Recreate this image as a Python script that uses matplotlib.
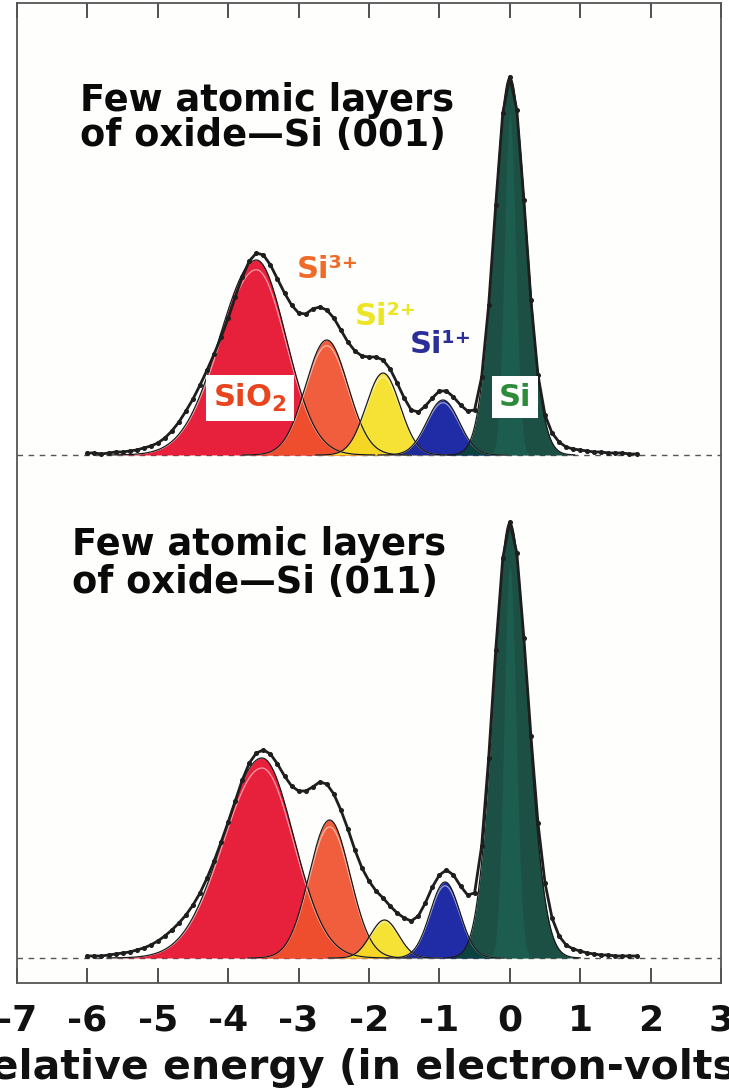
import numpy as np
import matplotlib.pyplot as plt

# energy grid of the measured spectra (eV, relative to bulk Si 2p)
energy = np.round(np.arange(-6.0, 1.81, 0.1), 1)

# measured intensity, Si(001) with a few layers of oxide
upper_counts = [2, 2, 1, 2, 3, 3, 4, 5, 7, 9,
                12, 17, 24, 33, 44, 56, 70, 85, 101, 118,
                137, 158, 178, 194, 202, 200, 190, 176, 162, 150,
                142, 141, 146, 148, 145, 137, 125, 113, 104, 99,
                98, 98, 95, 86, 72, 57, 45, 43, 49, 57,
                64, 64, 58, 50, 44, 45, 78, 150, 250, 342,
                378, 345, 255, 155, 80, 40, 22, 13, 8, 6,
                5, 4, 3, 3, 2, 2, 2, 1, 1]

# measured intensity, Si(011) with a few layers of oxide
lower_counts = [2, 2, 2, 3, 4, 5, 6, 8, 10, 13,
                17, 22, 28, 35, 43, 53, 65, 80, 97, 116,
                136, 157, 178, 195, 205, 208, 204, 194, 182, 172,
                167, 167, 171, 176, 174, 164, 148, 129, 108, 90,
                77, 67, 60, 52, 45, 40, 37, 42, 55, 71,
                83, 88, 83, 72, 63, 65, 112, 200, 308, 400,
                436, 405, 320, 222, 135, 75, 40, 22, 13, 9,
                7, 5, 4, 3, 3, 2, 2, 2, 2]

# fitted components: SiO2, Si3+, Si2+, Si1+, Si
peak_colors = ['#e6102c', '#f0522e', '#f6e024', '#0f1ca0', '#0a4337']

upper_centers = [-3.60, -2.60, -1.80, -0.95, 0.00]
upper_heights = [195, 115, 82, 55, 378]
upper_left_w = [0.52, 0.30, 0.24, 0.23, 0.22]
upper_right_w = [0.42, 0.30, 0.24, 0.23, 0.23]

lower_centers = [-3.52, -2.56, -1.78, -0.92, 0.00]
lower_heights = [200, 138, 38, 76, 436]
lower_left_w = [0.55, 0.29, 0.20, 0.21, 0.23]
lower_right_w = [0.45, 0.29, 0.20, 0.21, 0.25]

upper_offset = 503

xticks = list(range(-7, 4))

plt.rcParams['font.family'] = 'DejaVu Sans'
plt.rcParams['font.weight'] = 'bold'
plt.rcParams['mathtext.fontset'] = 'dejavusans'


def component(x, c, h, wl, wr):
    w = np.where(x < c, wl, wr)
    return h * np.exp(-0.5 * ((x - c) / w) ** 2)


def draw_panel(ax, counts, centers, heights, wl, wr, off):
    ax.plot([-7, 3], [off, off], color='#555555', lw=1, dashes=(4, 4), zorder=1)
    for i, (c, h, l, r, col) in enumerate(zip(centers, heights, wl, wr, peak_colors)):
        xs = np.linspace(c - 4 * l, c + 4 * r, 300)
        ys = component(xs, c, h, l, r)
        ax.fill_between(xs, off, ys + off, color=col, alpha=0.93, lw=0, zorder=2)
        if i == 4:
            # lighter streak inside the bulk peak
            ax.fill_between(xs, off, component(xs, c, h * 0.9, l * 0.35, r * 0.35) + off,
                            color='#1d6e5c', alpha=0.45, lw=0, zorder=2)
        else:
            # crayon highlight just inside the outline
            ax.plot(xs, ys * 0.95 + off, color='white', lw=0.9, alpha=0.55, zorder=3)
        ax.plot(xs, ys + off, color='#1a1a1a', lw=0.9, zorder=3)
    ax.plot(energy, np.array(counts) + off, color='#1e1e1e', lw=2,
            marker='o', ms=2.6, zorder=5)


fig = plt.figure(figsize=(7.29, 10.91), dpi=100)
ax = fig.add_axes([17 / 729, 1 - 983 / 1091, 704 / 729, 980 / 1091])
ax.set_facecolor('#fefefd')

draw_panel(ax, upper_counts, upper_centers, upper_heights,
           upper_left_w, upper_right_w, upper_offset)
draw_panel(ax, lower_counts, lower_centers, lower_heights,
           lower_left_w, lower_right_w, 0)

ax.set_xlim(-7, 3)
ax.set_ylim(-25, 955)
ax.set_xticks(xticks)
ax.set_xticklabels([str(t) for t in xticks])
ax.set_yticks([])
ax.tick_params(axis='x', which='both', direction='in', length=11, width=1.2,
               top=True, bottom=True, labelsize=26, pad=15, colors='#333333',
               labelcolor='#111111')
for s in ax.spines.values():
    s.set_color('#555555')
    s.set_linewidth(1.3)

# panel titles
ax.text(-6.11, 847, 'Few atomic layers', fontsize=26.5, va='baseline', color='#0a0a0a')
ax.text(-6.11, 812, 'of oxide\u2014Si (001)', fontsize=26.5, va='baseline', color='#0a0a0a')
ax.text(-6.22, 403, 'Few atomic layers', fontsize=26.5, va='baseline', color='#0a0a0a')
ax.text(-6.22, 365, 'of oxide\u2014Si (011)', fontsize=26.5, va='baseline', color='#0a0a0a')

# component labels
box = dict(boxstyle='square,pad=0.22', fc='white', ec='none')
ax.text(-3.69, 560, r'SiO$_\mathbf{2}$', fontsize=22, color='#e8451e',
        ha='center', va='center', bbox=box, zorder=6)
ax.text(-3.03, 680, 'Si\u00b3\u207a', fontsize=22, color='#f06a28',
        va='baseline', zorder=6)
ax.text(-2.20, 633, 'Si\u00b2\u207a', fontsize=22, color='#ece526',
        va='baseline', zorder=6)
ax.text(-1.42, 605, 'Si\u00b9\u207a', fontsize=22, color='#2b2e9a',
        va='baseline', zorder=6)
ax.text(0.07, 561, 'Si', fontsize=22, color='#2e8b3a',
        ha='center', va='center', bbox=box, zorder=6)

fig.text(357 / 729, 1 - 1068 / 1091, 'Relative energy (in electron-volts)',
         fontsize=29.5, ha='center', va='center', color='#111111')

fig.savefig('out.png', dpi=100, facecolor='white')
